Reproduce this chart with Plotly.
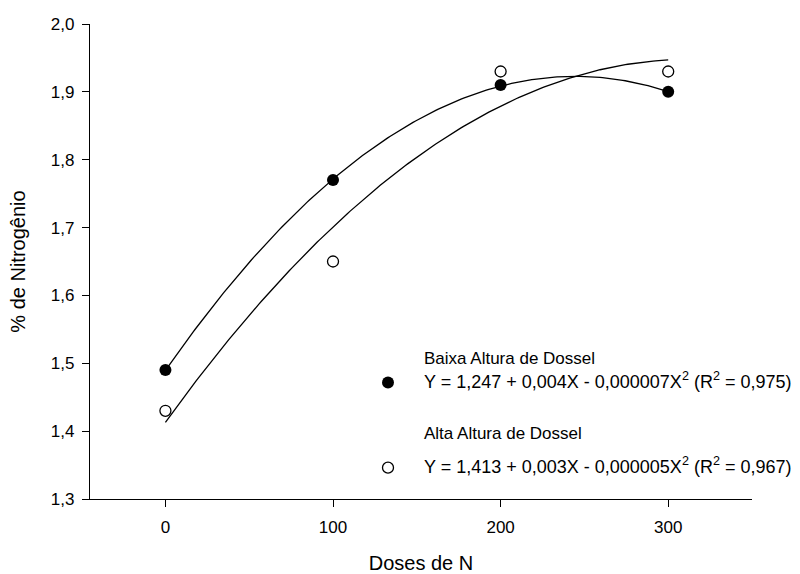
import numpy as np
import plotly.graph_objects as go

doses = [0, 100, 200, 300]
baixa = [1.49, 1.77, 1.91, 1.90]
alta = [1.43, 1.65, 1.93, 1.93]

baixa_title = "Baixa Altura de Dossel"
alta_title = "Alta Altura de Dossel"
baixa_eq = "Y = 1,247 + 0,004X - 0,000007X<sup>2</sup> (R<sup>2</sup> = 0,975)"
alta_eq = "Y = 1,413 + 0,003X - 0,000005X<sup>2</sup> (R<sup>2</sup> = 0,967)"

FONT = "Liberation Sans, Arial, sans-serif"
PX0, PW, PY0, PH = 90, 662, 499, 475  # plot area in pixels (for paper placement of texts)

xs = np.linspace(min(doses), max(doses), 200)
cb = np.polyfit(doses, baixa, 2)
ca = np.polyfit(doses, alta, 2)

fig = go.Figure()
fig.add_trace(go.Scatter(x=xs, y=np.polyval(cb, xs), mode="lines",
                         line=dict(color="black", width=1.3), showlegend=False, hoverinfo="skip"))
fig.add_trace(go.Scatter(x=xs, y=np.polyval(ca, xs), mode="lines",
                         line=dict(color="black", width=1.3), showlegend=False, hoverinfo="skip"))
fig.add_trace(go.Scatter(x=doses, y=baixa, mode="markers", name=" ", legendgroup="b",
                         marker=dict(symbol="circle", size=12, color="black")))
fig.add_trace(go.Scatter(x=doses, y=alta, mode="markers", name=" ", legendgroup="a",
                         marker=dict(symbol="circle-open", size=11, color="black",
                                     line=dict(width=1.3, color="black"))))

def px(x):
    return (x - PX0) / PW

def py(y):
    return (PY0 - y) / PH

for txt, yy, sz in [(baixa_title, 358, 17), (baixa_eq, 380, 18),
                    (alta_title, 433, 17), (alta_eq, 465, 18)]:
    fig.add_annotation(text=txt, xref="paper", yref="paper", x=px(422), y=py(yy),
                       xanchor="left", yanchor="middle", showarrow=False,
                       font=dict(family=FONT, size=sz, color="black"))

fig.update_layout(
    width=800, height=574,
    margin=dict(l=90, r=48, t=24, b=75),
    paper_bgcolor="white", plot_bgcolor="white",
    separators=",.",
    font=dict(family=FONT, size=17, color="black"),
    legend=dict(x=px(353), y=py(365), xanchor="left", yanchor="top",
                bgcolor="rgba(0,0,0,0)", font=dict(family=FONT, size=17, color="black"),
                itemwidth=60, tracegroupgap=60),
    xaxis=dict(range=[-45, 350], tickvals=doses, showline=True, linecolor="black", linewidth=1.2,
               ticks="outside", ticklen=7, tickcolor="black", showgrid=False, zeroline=False,
               tickfont=dict(size=17), ticklabelstandoff=5, automargin=False,
               title=dict(text="Doses de N", font=dict(size=20), standoff=25)),
    yaxis=dict(range=[1.3, 2.0], dtick=0.1, tickformat=".1f", showline=True, linecolor="black",
               linewidth=1.2, ticks="outside", ticklen=7, tickcolor="black", showgrid=False,
               zeroline=False, tickfont=dict(size=17), ticklabelstandoff=4, automargin=False,
               title=dict(text="% de Nitrogênio", font=dict(size=20), standoff=19)),
)

fig.write_html("out.html")
